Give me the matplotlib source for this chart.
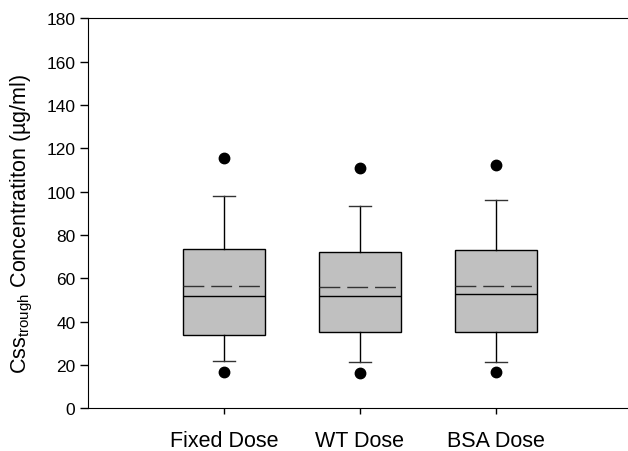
import matplotlib.pyplot as plt

plt.rcParams['font.family'] = ['Liberation Sans', 'DejaVu Sans']
plt.rcParams['mathtext.fontset'] = 'custom'
plt.rcParams['mathtext.rm'] = 'Liberation Sans'

groups = ["Fixed Dose", "WT Dose", "BSA Dose"]
p5 = [16.6, 16.3, 16.9]
p10 = [22.0, 21.5, 21.5]
q1 = [33.7, 35.2, 35.1]
med = [52.0, 52.0, 52.6]
mean = [56.4, 56.1, 56.4]
q3 = [73.4, 72.0, 73.1]
p90 = [98.0, 93.5, 96.1]
p95 = [115.5, 110.8, 112.3]

stats = []
for i, g in enumerate(groups):
    stats.append({
        "label": g,
        "whislo": p10[i], "q1": q1[i], "med": med[i], "q3": q3[i],
        "whishi": p90[i], "mean": mean[i], "fliers": [p5[i], p95[i]],
    })

fig = plt.figure(figsize=(6.28, 4.52), dpi=100)
ax = fig.add_axes([0.140, 0.0945, 0.866, 0.8625])

ax.bxp(stats, positions=[1, 2, 3], widths=0.6, patch_artist=True,
       showmeans=True, meanline=True,
       boxprops=dict(facecolor="#c0c0c0", edgecolor="black", linewidth=1),
       medianprops=dict(color="black", linewidth=1),
       meanprops=dict(color="#333333", linewidth=1, linestyle=(0, (15, 5))),
       whiskerprops=dict(color="black", linewidth=1),
       capprops=dict(color="#333333", linewidth=1),
       capwidths=0.165,
       flierprops=dict(marker="o", markerfacecolor="black", markeredgecolor="black",
                       markersize=7.5, linestyle="none"))

ax.set_xlim(0, 4)
ax.set_ylim(0, 180)
ax.set_yticks(range(0, 181, 20))
ax.set_xticks([1, 2, 3])
ax.set_xticklabels(groups)
ax.spines["right"].set_visible(False)
ax.tick_params(axis="y", direction="out", length=6, width=1, labelsize=12.5, pad=3)
ax.tick_params(axis="x", direction="out", length=4.5, width=1, labelsize=15.5, pad=11)
ax.set_ylabel(r"Css$_{\mathregular{trough}}$ Concentratiton (µg/ml)", fontsize=15.5)
ax.yaxis.set_label_coords(-0.097, 0.475)

fig.savefig("out.png", dpi=100)
